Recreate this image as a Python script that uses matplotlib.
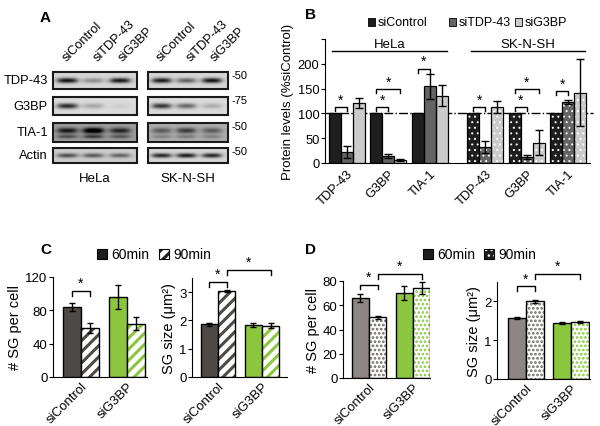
import numpy as np
import matplotlib
matplotlib.use("Agg")
import matplotlib.pyplot as plt
from matplotlib.patches import Rectangle

plt.rcParams['font.family'] = ['Liberation Sans', 'DejaVu Sans']
plt.rcParams['hatch.linewidth'] = 2.2

# ---------------- data ----------------
# panel A: western blot band darkness (0..1), lanes siControl, siTDP-43, siG3BP
blot_rows = ['TDP-43', 'G3BP', 'TIA-1', 'Actin']
blot_mw = ['-50', '-75', '-50', '-50']
blot_lanes = ['siControl', 'siTDP-43', 'siG3BP']
blot_cells = ['HeLa', 'SK-N-SH']
bands_hela = [[0.95, 0.35, 0.92], [0.85, 0.25, 0.06], [0.65, 0.95, 0.60], [0.60, 0.55, 0.50]]
bands_sk = [[0.90, 0.55, 0.95], [0.80, 0.55, 0.22], [0.40, 0.55, 0.40], [0.85, 0.90, 0.85]]
tia_lower_hela = [0.55, 0.70, 0.50]
tia_lower_sk = [0.30, 0.35, 0.30]
blot_bg_hela = [0.84, 0.86, 0.62, 0.80]
blot_bg_sk = [0.84, 0.86, 0.68, 0.84]

# panel B: protein levels (% siControl)
proteins = ['TDP-43', 'G3BP', 'TIA-1', 'TDP-43', 'G3BP', 'TIA-1']
lvl_ctrl = [100, 100, 100, 100, 100, 100]
lvl_tdp = [22, 15, 155, 33, 13, 123]
lvl_g3bp = [121, 6, 136, 112, 41, 142]
err_ctrl = [0, 0, 0, 0, 0, 0]
err_tdp = [12, 4, 25, 12, 4, 5]
err_g3bp = [11, 2, 21, 12, 25, 67]
legend_b = ['siControl', 'siTDP-43', 'siG3BP']
# (group, bar_a, bar_b, height)
sig_b = [(0, 0, 1, 112), (1, 0, 1, 112), (1, 0, 2, 149), (2, 0, 1, 190),
         (3, 0, 1, 112), (4, 0, 1, 112), (4, 0, 2, 149), (5, 0, 1, 145)]

# panels C / D
groups_cd = ['siControl', 'siG3BP']
c_num_60 = [84, 96]
c_num_90 = [59, 64]
c_num_60_err = [5, 14]
c_num_90_err = [6, 8]
c_size_60 = [1.87, 1.84]
c_size_90 = [3.05, 1.82]
c_size_60_err = [0.05, 0.06]
c_size_90_err = [0.03, 0.09]
d_num_60 = [66, 70]
d_num_90 = [50, 74]
d_num_60_err = [3.5, 6]
d_num_90_err = [1, 5]
d_size_60 = [1.58, 1.45]
d_size_90 = [2.0, 1.47]
d_size_60_err = [0.03, 0.02]
d_size_90_err = [0.04, 0.02]

W, H = 600, 427
fig = plt.figure(figsize=(6, 4.27), dpi=100)


def box(x0, y0, x1, y1):
    return [x0 / W, 1 - y1 / H, (x1 - x0) / W, (y1 - y0) / H]


def hatched_bar(ax, x, h, w, face, hcol, hatch, hlw, z=2):
    with plt.rc_context({'hatch.linewidth': hlw}):
        bars = ax.bar(x, h, w, color=face, edgecolor=hcol, linewidth=0, hatch=hatch, zorder=z)
    for p in bars:
        if hasattr(p, 'set_hatch_linewidth'):
            p.set_hatch_linewidth(hlw)
    return bars


ov = fig.add_axes([0, 0, 1, 1])
ov.set_xlim(0, W)
ov.set_ylim(H, 0)
ov.axis('off')

# ---------------- panel A ----------------
ov.text(40, 18, 'A', fontsize=11, fontweight='bold', ha='left', va='center')
row_y = [(73, 90), (98, 116), (124, 143), (149, 164)]
cell_x = [(53, 137), (148, 228)]
lane_frac = [0.17, 0.48, 0.80]
label_dx = [1, 6, 5]


def blot_img(x0, x1, y0, y1, darks, bg, lower=None):
    nx, ny = int((x1 - x0) * 4), int((y1 - y0) * 4)
    xs = np.linspace(0, 1, nx)
    ys = np.linspace(0, 1, ny)[:, None]
    img = np.full((ny, nx), bg)
    for f, d in zip(lane_frac, darks):
        gx = 1 / (1 + np.exp((np.abs(xs - f) - 0.11) / 0.025))
        yc = 0.40 if lower is not None else 0.5
        gy = np.exp(-((ys - yc) / 0.15) ** 2)
        img = img - d * 0.85 * gx * gy
    if lower is not None:
        for f, d in zip(lane_frac, lower):
            gx = 1 / (1 + np.exp((np.abs(xs - f) - 0.11) / 0.025))
            gy = np.exp(-((ys - 0.72) / 0.1) ** 2)
            img = img - d * 0.6 * gx * gy
    return np.clip(img, 0, 1)


for ci, (cx0, cx1) in enumerate(cell_x):
    bands = bands_hela if ci == 0 else bands_sk
    bgs = blot_bg_hela if ci == 0 else blot_bg_sk
    low = tia_lower_hela if ci == 0 else tia_lower_sk
    for ri, (ry0, ry1) in enumerate(row_y):
        img = blot_img(cx0, cx1, ry0, ry1, bands[ri], bgs[ri], low if ri == 2 else None)
        ov.imshow(img, cmap='gray', vmin=0, vmax=1, extent=(cx0, cx1, ry1, ry0),
                  aspect='auto', interpolation='bilinear')
        ov.add_patch(Rectangle((cx0, ry0), cx1 - cx0, ry1 - ry0, fill=False, ec='#1a1a1a', lw=1.5))
    for li, lab in enumerate(blot_lanes):
        lx = cx0 + lane_frac[li] * (cx1 - cx0) + label_dx[li]
        ov.text(lx, 64, lab, rotation=45, rotation_mode='anchor', ha='left', va='bottom', fontsize=9.2)
    ov.text((cx0 + cx1) / 2, 179, blot_cells[ci], ha='center', va='center', fontsize=9.5)

for ri, (ry0, ry1) in enumerate(row_y):
    ov.text(48, (ry0 + ry1) / 2, blot_rows[ri], ha='right', va='center', fontsize=9.3)
    ov.text(232, ry0 + 3, blot_mw[ri], ha='left', va='center', fontsize=8)
ov.set_xlim(0, W)
ov.set_ylim(H, 0)

# ---------------- panel B ----------------
ov.text(305, 15, 'B', fontsize=11, fontweight='bold', ha='left', va='center')
axb = fig.add_axes(box(325, 40, 590, 164))
gx = np.array([0, 1, 2, 3.35, 4.35, 5.35])
bw = 0.29
cols_b = ['#1e1e1e', '#646464', '#cbcbcb']
vals_b = [lvl_ctrl, lvl_tdp, lvl_g3bp]
errs_b = [err_ctrl, err_tdp, err_g3bp]
for k in range(3):
    xs = gx + (k - 1) * bw
    for j in range(6):
        if j >= 3:
            hatched_bar(axb, xs[j], vals_b[k][j], bw, cols_b[k], 'white', '...', 0.7)
        else:
            axb.bar(xs[j], vals_b[k][j], bw, color=cols_b[k], linewidth=0, zorder=2)
        axb.bar(xs[j], vals_b[k][j], bw, facecolor='none', edgecolor='black', linewidth=0.9, zorder=3)
    e = np.array(errs_b[k])
    m = e > 0
    axb.errorbar(xs[m], np.array(vals_b[k])[m], yerr=e[m], fmt='none', ecolor='black',
                 elinewidth=1, capsize=3, capthick=1, zorder=4)
axb.axhline(100, color='black', lw=1, ls='-.', zorder=1, xmax=1.01, clip_on=False)
for g, a, b, h in sig_b:
    x1, x2 = gx[g] + (a - 1) * bw, gx[g] + (b - 1) * bw
    axb.plot([x1, x1, x2, x2], [h - 8, h, h, h - 8], color='black', lw=1, zorder=5)
    axb.text((x1 + x2) / 2, h + 1, '*', ha='center', va='bottom', fontsize=10)
for lab, (x1, x2) in zip(blot_cells, [(-0.36, 2.42), (3.0, 5.75)]):
    axb.plot([x1, x2], [226, 226], color='black', lw=1, clip_on=False)
    axb.text((x1 + x2) / 2, 228, lab, ha='center', va='bottom', fontsize=9.5)
axb.set_xlim(-0.53, 5.88)
axb.set_ylim(0, 250)
axb.set_yticks([0, 50, 100, 150, 200, 250])
axb.set_yticklabels(['0', '50', '100', '150', '200', ''])
axb.set_xticks(gx)
axb.set_xticklabels(proteins, rotation=45, ha='right', rotation_mode='anchor', fontsize=9.3)
axb.tick_params(axis='x', length=0, pad=3)
axb.tick_params(axis='y', direction='out', length=3, labelsize=9.3, pad=1)
axb.set_ylabel('Protein levels (%siControl)', fontsize=9.5, labelpad=3)
for s in ['top', 'right']:
    axb.spines[s].set_visible(False)
for (lx, lab), c in zip(zip([368, 449, 515], legend_b), cols_b):
    ov.add_patch(Rectangle((lx, 19), 7, 8, fc=c, ec='black', lw=0.6))
    ov.text(lx + 10, 23, lab, ha='left', va='center', fontsize=9)


# ---------------- panels C, D ----------------
def cd_panel(rect, v60, v90, e60, e90, ylim, yticks, col60, col90, hatch, hlw, ylabel, sig):
    ax = fig.add_axes(box(*rect[:4]))
    c1, c2 = rect[4], rect[5]
    span = c2 - c1
    x = np.arange(2)
    w = 0.39
    x60 = x - w / 2
    x90 = x + w / 2
    ax.bar(x60, v60, w, color=col60, edgecolor='black', linewidth=1, zorder=2)
    for j in range(2):
        hatched_bar(ax, x90[j], v90[j], w, 'white', col90[j], hatch, hlw)
        ax.bar(x90[j], v90[j], w, facecolor='none', edgecolor='black', linewidth=1, zorder=3)
    ax.errorbar(x60, v60, yerr=e60, fmt='none', ecolor='black', elinewidth=1, capsize=2, zorder=4)
    ax.errorbar(x90, v90, yerr=e90, fmt='none', ecolor='black', elinewidth=1, capsize=2, zorder=4)
    ax.set_xlim((rect[0] - c1) / span, (rect[2] - c1) / span)
    ax.set_ylim(*ylim)
    ax.set_yticks(yticks)
    ax.set_xticks(x)
    ax.set_xticklabels(groups_cd, rotation=45, ha='right', rotation_mode='anchor', fontsize=9.5)
    ax.tick_params(axis='x', length=0, pad=2)
    ax.tick_params(axis='y', direction='out', length=3, labelsize=9.5, pad=1)
    ax.set_ylabel(ylabel, fontsize=10.5, labelpad=2)
    for s in ['top', 'right']:
        ax.spines[s].set_visible(False)
    tk = (ylim[1] - ylim[0]) * 0.05
    xs_all = [x60[0], x90[0], x60[1], x90[1]]
    for a, b, h in sig:
        ax.plot([xs_all[a], xs_all[a], xs_all[b], xs_all[b]], [h - tk, h, h, h - tk],
                color='black', lw=1, clip_on=False)
        ax.text((xs_all[a] + xs_all[b]) / 2, h + tk * 0.2, '*', ha='center', va='bottom', fontsize=10)
    return ax


grey_c = '#4e4a47'
grey_d = '#8e8682'
dots_d = '#6f6966'
green = '#8cc63f'

ov.text(40, 250, 'C', fontsize=11, fontweight='bold', ha='left', va='center')
cd_panel((53, 278, 147, 378, 81, 127), c_num_60, c_num_90, c_num_60_err, c_num_90_err,
         (0, 120), [0, 40, 80, 120], [grey_c, green], [grey_c, green], '///', 2.2,
         '# SG per cell', [(0, 1, 103)])
cd_panel((192, 279, 287, 378, 218, 262), c_size_60, c_size_90, c_size_60_err, c_size_90_err,
         (0, 3.5), [0, 1, 2, 3], [grey_c, green], [grey_c, green], '///', 2.2,
         'SG size (μm²)', [(0, 1, 3.37), (1, 3, 3.79)])

ov.text(305, 250, 'D', fontsize=11, fontweight='bold', ha='left', va='center')
cd_panel((343, 282, 430, 379, 369, 413), d_num_60, d_num_90, d_num_60_err, d_num_90_err,
         (0, 80), [0, 20, 40, 60, 80], [grey_d, green], [dots_d, green], '....', 1.3,
         '# SG per cell', [(0, 1, 77), (1, 3, 86)])
cd_panel((497, 283, 590, 380, 526, 571), d_size_60, d_size_90, d_size_60_err, d_size_90_err,
         (0, 2.5), [0, 1, 2], [grey_d, green], [dots_d, green], '....', 1.3,
         'SG size (μm²)', [(0, 1, 2.39), (1, 3, 2.7)])

# legends C / D
for lx, tx, hx, htx, hatch, hlw, hface, hcol in [(97, 111, 159, 173, '///', 2.2, 'white', '#1e1e1e'),
                                                 (423, 437, 484, 498, '...', 1.0, '#1e1e1e', 'white')]:
    ov.add_patch(Rectangle((lx, 250), 10, 10, fc='#1e1e1e', ec='black', lw=0.8))
    ov.text(tx, 255, '60min', ha='left', va='center', fontsize=10)
    with plt.rc_context({'hatch.linewidth': hlw}):
        p = Rectangle((hx, 250), 10, 10, fc=hface, ec=hcol, lw=0, hatch=hatch)
    if hasattr(p, 'set_hatch_linewidth'):
        p.set_hatch_linewidth(hlw)
    ov.add_patch(p)
    ov.add_patch(Rectangle((hx, 250), 10, 10, fill=False, ec='black', lw=0.8))
    ov.text(htx, 255, '90min', ha='left', va='center', fontsize=10)

fig.savefig('out.png', dpi=100)
